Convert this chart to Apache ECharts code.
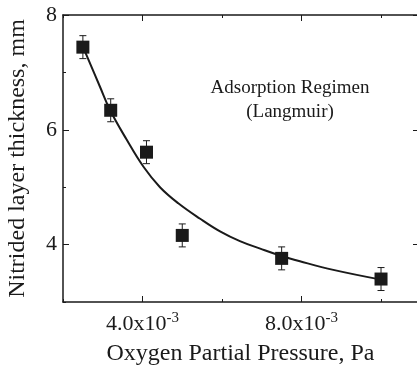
<!DOCTYPE html>
<html>
<head>
<meta charset="utf-8">
<script src="https://cdn.jsdelivr.net/npm/echarts@6/dist/echarts.min.js"></script>
<style>
  html, body { margin: 0; padding: 0; background: #fff; }
  #chart { width: 417px; height: 367px; }
</style>
</head>
<body>
<div id="chart"></div>
<script>
// measured points (pressure in Pa, thickness in mm)
const pressure = [0.0025, 0.0032, 0.0041, 0.0050, 0.0075, 0.0100];
const thickness = [7.44, 6.34, 5.61, 4.16, 3.76, 3.40];
const errorBar = [0.2, 0.2, 0.2, 0.2, 0.2, 0.2];

// fitted curve
const fitX = [0.0025, 0.00293, 0.00318, 0.0036, 0.00402, 0.00444, 0.0049, 0.00545, 0.00595, 0.00645, 0.00696, 0.00746, 0.00796, 0.0088, 0.0100];
const fitY = [7.45, 6.75, 6.35, 5.83, 5.36, 5.00, 4.72, 4.45, 4.23, 4.06, 3.93, 3.81, 3.71, 3.56, 3.39];

const xMajor = [0.004, 0.008];
const xLabels = { '0.004': '4.0x10', '0.008': '8.0x10' };
const yMajor = [4, 6, 8];

const serif = 'Liberation Serif';
const ink = '#1a1a1a';

const chart = echarts.init(document.getElementById('chart'));

const xBase = {
  type: 'value', min: 0.002, max: 0.01093, interval: 0.002,
  splitLine: { show: false }
};
const yBase = {
  type: 'value', min: 3, max: 8, interval: 1,
  splitLine: { show: false }
};

const option = {
  animation: false,
  grid: { left: 63, top: 15, right: -1, bottom: 65, containLabel: false, outerBoundsMode: 'none' },
  xAxis: [
    Object.assign({}, xBase, {
      position: 'bottom',
      name: 'Oxygen Partial Pressure, Pa',
      nameLocation: 'middle',
      nameGap: 40,
      nameTextStyle: { fontFamily: serif, fontSize: 24, color: ink },
      axisLine: { lineStyle: { color: ink, width: 1.5 } },
      axisTick: { inside: true, length: 3, lineStyle: { color: ink } },
      axisLabel: {
        customValues: xMajor,
        margin: 9,
        formatter: v => '{b|' + (xLabels[v.toFixed(3)] || '') + '}{s|-3}',
        rich: {
          b: { fontFamily: serif, fontSize: 22, color: ink },
          s: { fontFamily: serif, fontSize: 15, color: ink, verticalAlign: 'top', padding: [0, 0, 12, 0] }
        }
      }
    }),
    Object.assign({}, xBase, {
      position: 'bottom',
      axisLine: { show: false },
      axisTick: { inside: true, length: 6, customValues: xMajor, lineStyle: { color: ink } },
      axisLabel: { show: false }
    }),
    Object.assign({}, xBase, {
      position: 'top',
      axisLine: { lineStyle: { color: ink, width: 1.5 } },
      axisTick: { inside: true, length: 3, lineStyle: { color: ink } },
      axisLabel: { show: false }
    }),
    Object.assign({}, xBase, {
      position: 'top',
      axisLine: { show: false },
      axisTick: { inside: true, length: 6, customValues: xMajor, lineStyle: { color: ink } },
      axisLabel: { show: false }
    })
  ],
  yAxis: [
    Object.assign({}, yBase, {
      position: 'left',
      name: 'Nitrided layer thickness, mm',
      nameLocation: 'middle',
      nameGap: 33,
      nameTextStyle: { fontFamily: serif, fontSize: 24, color: ink, padding: [0, 0, 0, 0] },
      axisLine: { lineStyle: { color: ink, width: 1.5 } },
      axisTick: { inside: true, length: 3, lineStyle: { color: ink } },
      axisLabel: {
        customValues: yMajor,
        margin: 6,
        fontFamily: serif, fontSize: 22, color: ink
      }
    }),
    Object.assign({}, yBase, {
      position: 'left',
      axisLine: { show: false },
      axisTick: { inside: true, length: 6, customValues: yMajor, lineStyle: { color: ink } },
      axisLabel: { show: false }
    }),
    Object.assign({}, yBase, {
      position: 'right',
      axisLine: { lineStyle: { color: ink, width: 1.5 } },
      axisTick: { inside: true, length: 5, customValues: yMajor, lineStyle: { color: ink } },
      axisLabel: { show: false }
    })
  ],
  series: [
    {
      type: 'line',
      data: fitX.map((x, i) => [x, fitY[i]]),
      smooth: 0.4,
      showSymbol: false,
      lineStyle: { color: ink, width: 2 },
      z: 2
    },
    {
      type: 'custom',
      data: pressure.map((x, i) => [x, thickness[i] - errorBar[i], thickness[i] + errorBar[i]]),
      renderItem: (params, api) => {
        const lo = api.coord([api.value(0), api.value(1)]);
        const hi = api.coord([api.value(0), api.value(2)]);
        const w = 3.5;
        const style = { stroke: ink, lineWidth: 1 };
        return {
          type: 'group',
          children: [
            { type: 'line', shape: { x1: lo[0], y1: lo[1], x2: hi[0], y2: hi[1] }, style },
            { type: 'line', shape: { x1: lo[0] - w, y1: lo[1], x2: lo[0] + w, y2: lo[1] }, style },
            { type: 'line', shape: { x1: hi[0] - w, y1: hi[1], x2: hi[0] + w, y2: hi[1] }, style }
          ]
        };
      },
      z: 3
    },
    {
      type: 'scatter',
      data: pressure.map((x, i) => [x, thickness[i]]),
      symbol: 'rect',
      symbolSize: 13,
      itemStyle: { color: ink, opacity: 1 },
      z: 4
    }
  ],
  graphic: [
    {
      type: 'text', x: 290, y: 88,
      style: { text: 'Adsorption Regimen', font: '19px "Liberation Serif"', fill: ink, textAlign: 'center', textVerticalAlign: 'middle' }
    },
    {
      type: 'text', x: 290, y: 112,
      style: { text: '(Langmuir)', font: '19px "Liberation Serif"', fill: ink, textAlign: 'center', textVerticalAlign: 'middle' }
    }
  ]
};

chart.setOption(option);
</script>
</body>
</html>
